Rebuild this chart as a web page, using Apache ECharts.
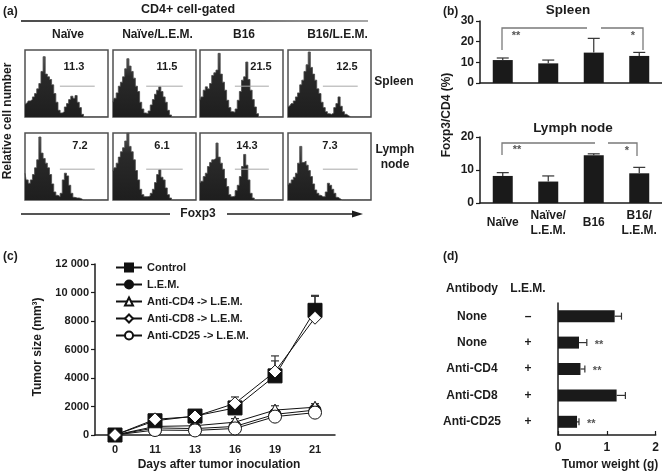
<!DOCTYPE html>
<html><head><meta charset="utf-8">
<script src="https://cdn.jsdelivr.net/npm/echarts@6/dist/echarts.min.js"></script>
<style>html,body{margin:0;padding:0;background:#fff}#c{width:662px;height:473px}</style>
</head><body><div id="c"></div>
<script>
// ---------- (a) histogram data (relative cell number, % of box height, 40 Foxp3 bins) ----------
const histSpleenNaive    = [19,21,24,26,30,35,42,50,68,90,64,60,56,48,35,22,10,6,8,15,20,26,31,28,32,22,14,4,0,0,0,0,0,0,0,0,0,0,0,0];
const histSpleenNaiveLem = [22,28,36,46,52,60,72,87,76,68,58,46,38,22,12,6,5,9,18,26,34,40,45,38,30,22,10,3,0,0,0,0,0,0,0,0,0,0,0,0];
const histSpleenB16      = [25,30,40,45,42,50,62,66,70,95,64,52,40,25,14,8,7,12,25,38,55,60,82,56,40,26,15,5,0,0,0,0,0,0,0,0,0,0,0,0];
const histSpleenB16Lem   = [15,17,20,24,30,36,48,55,68,78,97,74,64,55,42,35,22,14,8,5,4,6,14,20,30,16,8,4,2,0,0,0,0,0,0,0,0,0,0,0];
const histLymphNaive     = [40,30,25,30,38,48,60,94,70,62,55,48,38,24,12,7,5,10,30,40,36,22,10,4,3,3,2,0,0,0,0,0,0,0,0,0,0,0,0,0];
const histLymphNaiveLem  = [43,48,55,64,72,78,88,100,80,72,60,44,30,16,8,5,5,6,10,16,26,38,45,34,30,18,8,3,0,0,0,0,0,0,0,0,0,0,0,0];
const histLymphB16       = [25,28,35,40,50,56,60,62,85,64,55,46,32,20,8,5,6,14,22,35,50,68,52,30,10,3,0,0,0,0,0,0,0,0,0,0,0,0,0,0];
const histLymphB16Lem    = [22,25,30,34,40,55,80,56,58,52,44,35,24,15,10,7,5,5,12,25,22,16,10,4,2,0,0,0,0,0,0,0,0,0,0,0,0,0,0,0];
const histGroups = ['Naïve', 'Naïve/L.E.M.', 'B16', 'B16/L.E.M.'];
const histTissues = ['Spleen', 'Lymph\nnode'];
const gatePctSpleen = ['11.3', '11.5', '21.5', '12.5'];
const gatePctLymph  = ['7.2', '6.1', '14.3', '7.3'];
const gateFrom = [0.42, 0.40, 0.42, 0.42];
const gateTo   = [0.84, 0.84, 0.83, 0.84];
const gateLevel = 46;

// ---------- (b) Foxp3/CD4 (%) ----------
const bCategories = ['Naïve', 'Naïve/\nL.E.M.', 'B16', 'B16/\nL.E.M.'];
const spleenMean = [11.1, 9.5, 14.7, 13.1];
const spleenErr  = [1.0, 1.6, 6.9, 1.7];
const lymphMean  = [8.2, 6.5, 14.5, 9.0];
const lymphErr   = [1.0, 1.7, 0.4, 1.8];

// ---------- (c) tumor size ----------
const days = ['0', '11', '13', '16', '19', '21'];
const sizeControl = [0, 1000, 1330, 1900, 4150, 8750];
const errControl  = [0, 150, 120, 250, 1400, 1050];
const sizeLem     = [0, 500, 450, 600, 1450, 1750];
const errLem      = [0, 100, 80, 100, 250, 250];
const sizeCD4     = [0, 600, 650, 900, 1750, 1950];
const errCD4      = [0, 150, 100, 250, 300, 250];
const sizeCD8     = [0, 1100, 1300, 2220, 4450, 8230];
const errCD8      = [0, 200, 150, 450, 750, 1500];
const sizeCD25    = [0, 350, 320, 460, 1290, 1570];
const errCD25     = [0, 80, 80, 100, 200, 250];
const sizeTicks = [0, 2000, 4000, 6000, 8000, 10000, 12000];

// ---------- (d) tumor weight ----------
const dAntibody = ['None', 'None', 'Anti-CD4', 'Anti-CD8', 'Anti-CD25'];
const dLem      = ['–', '+', '+', '+', '+'];
const dWeight   = [1.16, 0.43, 0.46, 1.20, 0.39];
const dErr      = [0.14, 0.16, 0.09, 0.18, 0.04];
const dSig      = ['', '**', '**', '', '**'];

// ---------- build ----------
const F = "'Liberation Sans', Arial, Helvetica, sans-serif";
const ink = '#1c1c1c';
const chart = echarts.init(document.getElementById('c'));
const grids = [], xAxes = [], yAxes = [], series = [];

const hists = [[histSpleenNaive, histSpleenNaiveLem, histSpleenB16, histSpleenB16Lem],
               [histLymphNaive, histLymphNaiveLem, histLymphB16, histLymphB16Lem]];
const boxLeft = [25, 113, 200, 288], boxTop = [50, 133];
hists.forEach((row, r) => row.forEach((h, c) => {
  const gi = grids.length, xi = xAxes.length, yi = yAxes.length;
  const last = h.length - 1;
  grids.push({left: boxLeft[c], top: boxTop[r], width: 83, height: 67, show: true,
              borderColor: '#505050', borderWidth: 1.5, backgroundColor: 'rgba(0,0,0,0)'});
  xAxes.push({gridIndex: gi, type: 'value', min: 0, max: last, show: false});
  yAxes.push({gridIndex: gi, type: 'value', min: 0, max: 100, show: false});
  series.push({type: 'line', xAxisIndex: xi, yAxisIndex: yi, data: h.map((v, i) => [i, v]),
               step: 'middle', symbol: 'none', silent: true,
               lineStyle: {color: '#4a4a4a', width: 0.8},
               areaStyle: {opacity: 1, color: new echarts.graphic.LinearGradient(0, 0, 0, 1,
                 [{offset: 0, color: '#555'}, {offset: 0.3, color: '#2a2a2a'}, {offset: 1, color: '#1e1e1e'}])}});
  series.push({type: 'line', xAxisIndex: xi, yAxisIndex: yi,
               data: [[gateFrom[c] * last, gateLevel], [gateTo[c] * last, gateLevel]],
               symbol: 'none', lineStyle: {color: '#a8a8a8', width: 1}, silent: true, z: 5});
}));

const axisTxt = (size) => ({color: ink, fontFamily: F, fontWeight: 'bold', fontSize: size});
function vErrItem(cap) {
  return function (params, api) {
    const x = api.value(0), y = api.value(1), e = api.value(2);
    const b = api.coord([x, y]), t = api.coord([x, y + e]);
    const st = {stroke: '#333', lineWidth: 1.2};
    return {type: 'group', children: [
      {type: 'line', shape: {x1: b[0], y1: b[1], x2: t[0], y2: t[1]}, style: st},
      {type: 'line', shape: {x1: t[0] - cap / 2, y1: t[1], x2: t[0] + cap / 2, y2: t[1]}, style: st}
    ]};
  };
}

// (b)
const bGrids = [{top: 21, height: 62, max: 30, mean: spleenMean, err: spleenErr, labels: false},
                {top: 137, height: 66, max: 20, mean: lymphMean, err: lymphErr, labels: true}];
bGrids.forEach(g => {
  const gi = grids.length, xi = xAxes.length, yi = yAxes.length;
  grids.push({left: 480, top: g.top, width: 182, height: g.height});
  xAxes.push({gridIndex: gi, type: 'category', data: bCategories,
    axisLine: {lineStyle: {color: ink, width: 1.5}},
    axisTick: {inside: true, length: 4, lineStyle: {color: ink, width: 1.2}},
    axisLabel: Object.assign({show: g.labels, interval: 0, margin: 20, verticalAlign: 'middle', lineHeight: 15}, axisTxt(12))});
  yAxes.push({gridIndex: gi, type: 'value', min: 0, max: g.max, interval: 10,
    axisLine: {show: true, lineStyle: {color: ink, width: 1.5}},
    axisTick: {show: true, length: 4, lineStyle: {color: ink, width: 1.2}},
    splitLine: {show: false},
    axisLabel: Object.assign({margin: 6}, axisTxt(12))});
  series.push({type: 'bar', xAxisIndex: xi, yAxisIndex: yi, data: g.mean, barWidth: 20,
               itemStyle: {color: '#1a1a1a'}});
  series.push({type: 'custom', xAxisIndex: xi, yAxisIndex: yi, renderItem: vErrItem(12),
               data: g.mean.map((m, i) => [i, m, g.err[i]]), encode: {x: 0, y: 1}, z: 3});
});

// (c)
{
  const gi = grids.length, xi = xAxes.length, yi = yAxes.length;
  grids.push({left: 95, top: 264, width: 240, height: 171});
  xAxes.push({gridIndex: gi, type: 'category', data: days,
    axisLine: {lineStyle: {color: ink, width: 1.5}},
    axisTick: {inside: true, length: 4, lineStyle: {color: ink, width: 1.2}},
    axisLabel: Object.assign({margin: 9}, axisTxt(11))});
  yAxes.push({gridIndex: gi, type: 'value', min: sizeTicks[0], max: sizeTicks[sizeTicks.length - 1], interval: 2000,
    axisLine: {show: true, lineStyle: {color: ink, width: 1.5}},
    axisTick: {show: true, length: 4, lineStyle: {color: ink, width: 1.2}},
    splitLine: {show: false},
    axisLabel: Object.assign({margin: 6, formatter: v => v >= 10000 ? (v / 1000) + ' 000' : String(v)}, axisTxt(11))});
  const groups = [
    {name: 'L.E.M.', data: sizeLem, err: errLem, symbol: 'circle', size: 12, fill: '#111'},
    {name: 'Anti-CD4 -> L.E.M.', data: sizeCD4, err: errCD4, symbol: 'triangle', size: 12, fill: '#fff'},
    {name: 'Anti-CD25 -> L.E.M.', data: sizeCD25, err: errCD25, symbol: 'circle', size: 13, fill: '#fff'},
    {name: 'Control', data: sizeControl, err: errControl, symbol: 'rect', size: 14, fill: '#111'},
    {name: 'Anti-CD8 -> L.E.M.', data: sizeCD8, err: errCD8, symbol: 'diamond', size: 13, fill: '#fff'}
  ];
  const errData = [];
  groups.forEach(g => g.data.forEach((v, i) => { if (g.err[i] > 0) errData.push([i, v, g.err[i]]); }));
  series.push({type: 'custom', xAxisIndex: xi, yAxisIndex: yi, renderItem: vErrItem(8),
               data: errData, encode: {x: 0, y: 1}, z: 1});
  groups.forEach((g, k) => series.push({type: 'line', name: g.name, xAxisIndex: xi, yAxisIndex: yi,
    data: g.data, symbol: g.symbol, symbolSize: g.size, showAllSymbol: true, z: 2 + k,
    itemStyle: {color: g.fill, borderColor: '#111', borderWidth: 1},
    lineStyle: {color: '#111', width: 1}}));
}

// (d)
{
  const gi = grids.length, xi = xAxes.length, yi = yAxes.length;
  grids.push({left: 558, top: 303, width: 98, height: 132});
  xAxes.push({gridIndex: gi, type: 'value', min: 0, max: 2, interval: 1,
    axisLine: {show: true, lineStyle: {color: ink, width: 1.5}},
    axisTick: {show: true, inside: true, length: 4, lineStyle: {color: ink, width: 1.2}},
    splitLine: {show: false},
    axisLabel: Object.assign({margin: 7}, axisTxt(12))});
  yAxes.push({gridIndex: gi, type: 'category', inverse: true, data: dAntibody.map((a, i) => String(i)),
    axisLine: {lineStyle: {color: ink, width: 1.5}},
    axisTick: {inside: true, length: 4, lineStyle: {color: ink, width: 1.2}},
    axisLabel: {interval: 0, margin: 16,
      formatter: (v, idx) => '{a|' + dAntibody[idx] + '}{b|' + dLem[idx] + '}',
      rich: {a: Object.assign({width: 84, align: 'center'}, axisTxt(12)),
             b: Object.assign({width: 28, align: 'center'}, axisTxt(12))}}});
  series.push({type: 'bar', xAxisIndex: xi, yAxisIndex: yi, data: dWeight, barWidth: 12,
               itemStyle: {color: '#1a1a1a'}});
  series.push({type: 'custom', xAxisIndex: xi, yAxisIndex: yi, encode: {x: 0, y: 1}, z: 3,
    data: dWeight.map((w, i) => [w, i, dErr[i]]),
    renderItem: function (params, api) {
      const w = api.value(0), i = api.value(1), e = api.value(2);
      const b = api.coord([w, i]), t = api.coord([w + e, i]);
      const st = {stroke: '#333', lineWidth: 1.2};
      const ch = [
        {type: 'line', shape: {x1: b[0], y1: b[1], x2: t[0], y2: t[1]}, style: st},
        {type: 'line', shape: {x1: t[0], y1: t[1] - 3.5, x2: t[0], y2: t[1] + 3.5}, style: st}];
      const s = dSig[params.dataIndex];
      if (s) ch.push({type: 'text', x: t[0] + 8, y: b[1] + 2,
        style: {text: s, fill: '#555', font: 'bold 11px ' + F, align: 'left', verticalAlign: 'middle',
                textAlign: 'left', textVerticalAlign: 'middle'}});
      return {type: 'group', children: ch};
    }});
}

// ---------- annotations ----------
function T(text, x, y, size, opt) {
  opt = opt || {};
  return {type: 'text', x: x, y: y, rotation: opt.rot || 0, z: 100,
    style: {text: text, fill: opt.color || ink, font: 'bold ' + size + 'px ' + F,
      align: opt.align || 'center', verticalAlign: 'middle',
      textAlign: opt.align || 'center', textVerticalAlign: 'middle', lineHeight: opt.lh || size + 3}};
}
function L(x1, y1, x2, y2, color, w) {
  return {type: 'line', z: 100, shape: {x1, y1, x2, y2}, style: {stroke: color || ink, lineWidth: w || 1.2}};
}
const g = [];
g.push(T('(a)', 3, 12, 12, {align: 'left'}));
g.push(T('(b)', 443, 12, 12, {align: 'left'}));
g.push(T('(c)', 3, 257, 12, {align: 'left'}));
g.push(T('(d)', 443, 257, 12, {align: 'left'}));
g.push(T('CD4+ cell-gated', 188, 10, 12.5));
g.push({type: 'line', z: 100, shape: {x1: 21, y1: 21, x2: 368, y2: 21},
  style: {lineWidth: 1.5, stroke: new echarts.graphic.LinearGradient(21, 0, 368, 0,
    [{offset: 0, color: '#111'}, {offset: 0.6, color: '#333'}, {offset: 1, color: '#8a8a8a'}], true)}});
const colCenters = [68, 157.5, 244, 337.5];
histGroups.forEach((n, i) => g.push(T(n, colCenters[i], 35, 12)));
g.push(T(histTissues[0], 394, 82, 12));
g.push(T(histTissues[1], 395, 157, 12, {lh: 15}));
g.push(T('Relative cell number', 8, 121, 12, {rot: Math.PI / 2}));
[74, 167, 261, 347].forEach((x, i) => g.push(T(gatePctSpleen[i], x, 67, 11)));
[80, 162, 247, 330].forEach((x, i) => g.push(T(gatePctLymph[i], x, 146, 11)));
g.push(L(21, 214, 170, 214, ink, 1.3));
g.push(T('Foxp3', 198, 214, 12));
g.push(L(227, 214, 356, 214, ink, 1.3));
g.push({type: 'polygon', z: 100, shape: {points: [[352, 210.5], [363, 214], [352, 217.5]]}, style: {fill: ink}});
// (b)
g.push(T('Spleen', 568, 10, 13.5));
g.push(T('Lymph node', 573, 128, 13.5));
g.push(T('Foxp3/CD4 (%)', 447, 115, 12, {rot: Math.PI / 2}));
const br = '#7a7a7a';
g.push({type: 'polyline', z: 100, shape: {points: [[502, 50], [502, 28], [587, 28]]}, style: {stroke: br, fill: null, lineWidth: 1.3}});
g.push({type: 'polyline', z: 100, shape: {points: [[601, 28], [643, 28], [643, 50]]}, style: {stroke: br, fill: null, lineWidth: 1.3}});
g.push(T('**', 516, 36, 11, {color: '#555'}));
g.push(T('*', 633, 36, 11, {color: '#555'}));
g.push({type: 'polyline', z: 100, shape: {points: [[502, 155], [502, 143], [595, 143]]}, style: {stroke: br, fill: null, lineWidth: 1.3}});
g.push({type: 'polyline', z: 100, shape: {points: [[608, 143], [637, 143], [637, 156]]}, style: {stroke: br, fill: null, lineWidth: 1.3}});
g.push(T('**', 517, 150, 11, {color: '#555'}));
g.push(T('*', 627, 151, 11, {color: '#555'}));
// (c)
g.push(T('Tumor size (mm³)', 38, 347, 12, {rot: Math.PI / 2}));
g.push(T('Days after tumor inoculation', 219, 465, 12));
// (d)
g.push(T('Antibody', 472, 289, 12));
g.push(T('L.E.M.', 528, 289, 12));
g.push(T('Tumor weight (g)', 610, 465, 12));

chart.setOption({
  animation: false,
  textStyle: {fontFamily: F},
  grid: grids, xAxis: xAxes, yAxis: yAxes, series: series,
  legend: {data: ['Control', 'L.E.M.', 'Anti-CD4 -> L.E.M.', 'Anti-CD8 -> L.E.M.', 'Anti-CD25 -> L.E.M.'],
    orient: 'vertical', left: 110, top: 257, itemWidth: 26, itemHeight: 10, itemGap: 6, selectedMode: false,
    textStyle: {color: ink, fontFamily: F, fontWeight: 'bold', fontSize: 11}},
  graphic: g
});
</script></body></html>
